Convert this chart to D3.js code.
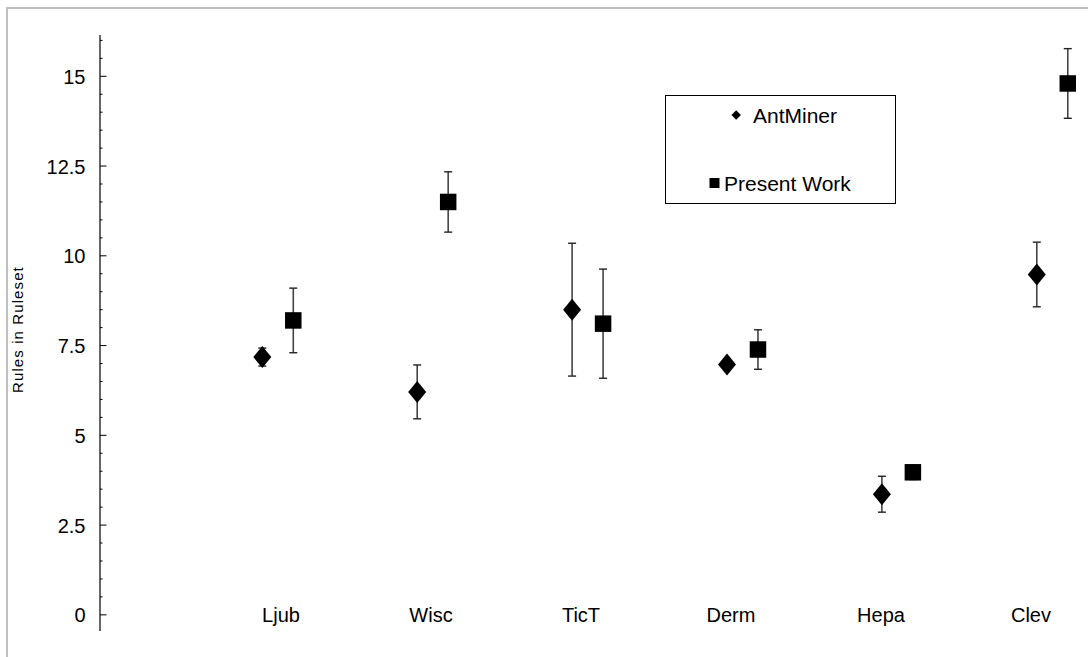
<!DOCTYPE html>
<html>
<head>
<meta charset="utf-8">
<script src="https://cdn.jsdelivr.net/npm/d3@7"></script>
<style>
  html, body { margin: 0; padding: 0; background: #fff; }
  svg { display: block; font-family: "Liberation Sans", Arial, sans-serif; }
</style>
</head>
<body>
<svg id="chart" width="1088" height="657"></svg>
<script>
// Datasets along the horizontal axis
const categories = ["Ljub", "Wisc", "TicT", "Derm", "Hepa", "Clev"];

// Mean number of rules in the ruleset, with error half-widths
const antMiner    = [7.18, 6.21, 8.50, 6.97, 3.36, 9.48];
const antMinerErr = [0.25, 0.75, 1.85, 0.15, 0.50, 0.90];
const presentWork    = [8.20, 11.50, 8.11, 7.39, 3.97, 14.80];
const presentWorkErr = [0.90, 0.84, 1.52, 0.55, 0.20, 0.97];

// Y axis ticks
const majorTicks = [0, 2.5, 5, 7.5, 10, 12.5, 15];
const majorTickLabels = ["0", "2.5", "5", "7.5", "10", "12.5", "15"];
const minorTicks = d3.range(0, 16.01, 0.5).filter(v => !majorTicks.includes(v));

const seriesNames = ["AntMiner", "Present Work"];

const svg = d3.select("#chart");

// Outer chart frame
svg.append("rect")
  .attr("x", 7).attr("y", 8)
  .attr("width", 1100).attr("height", 670)
  .attr("fill", "none").attr("stroke", "#c0c0c0").attr("stroke-width", 2);

const y = d3.scaleLinear().domain([-0.45, 16.15]).range([631, 35]);
const x = d3.scaleLinear().domain([1, 6]).range([262.3, 1036.8]);
const xLabel = d3.scalePoint().domain(categories).range([281, 1031]);
const axisX = 100;

// Y axis line
svg.append("line")
  .attr("x1", axisX).attr("x2", axisX)
  .attr("y1", y.range()[0]).attr("y2", y.range()[1])
  .attr("stroke", "#000").attr("stroke-width", 1.2);

// Minor and major ticks point inward
svg.append("g").selectAll("line").data(minorTicks).join("line")
  .attr("x1", axisX).attr("x2", axisX + 2.5)
  .attr("y1", d => y(d)).attr("y2", d => y(d))
  .attr("stroke", "#000").attr("stroke-width", 1);

svg.append("g").selectAll("line").data(majorTicks).join("line")
  .attr("x1", axisX).attr("x2", axisX + 6.5)
  .attr("y1", d => y(d)).attr("y2", d => y(d))
  .attr("stroke", "#000").attr("stroke-width", 1);

svg.append("g").selectAll("text").data(majorTicks).join("text")
  .attr("x", 85.5)
  .attr("y", d => y(d) + 7.5)
  .attr("text-anchor", "end")
  .attr("font-size", 20)
  .attr("fill", "#000")
  .text((d, i) => majorTickLabels[i]);

// Y axis title
svg.append("text")
  .attr("transform", `translate(23, ${y(7.5) - 16}) rotate(-90)`)
  .attr("text-anchor", "middle")
  .attr("font-size", 15)
  .attr("letter-spacing", 1.1)
  .attr("fill", "#000")
  .text("Rules in Ruleset");

// Category labels
svg.append("g").selectAll("text").data(categories).join("text")
  .attr("x", d => xLabel(d))
  .attr("y", y(0) + 7.5)
  .attr("text-anchor", "middle")
  .attr("font-size", 20)
  .attr("fill", "#000")
  .text(d => d);

const series = [
  { name: seriesNames[0], values: antMiner, errs: antMinerErr, offset: 0, shape: "diamond" },
  { name: seriesNames[1], values: presentWork, errs: presentWorkErr, offset: 0.2, shape: "square" }
];

const diamondPath = (w, h) => `M0,${-h / 2}L${w / 2},0L0,${h / 2}L${-w / 2},0Z`;
const squarePath = s => `M${-s / 2},${-s / 2}h${s}v${s}h${-s}Z`;

series.forEach(s => {
  const pts = s.values.map((v, i) => ({ v, e: s.errs[i], xp: x(i + 1 + s.offset) }));
  const g = svg.append("g");

  // Error bars
  g.selectAll("line.stem").data(pts).join("line")
    .attr("class", "stem")
    .attr("x1", d => d.xp).attr("x2", d => d.xp)
    .attr("y1", d => y(d.v + d.e)).attr("y2", d => y(d.v - d.e))
    .attr("stroke", "#444").attr("stroke-width", 1.6);
  ["top", "bot"].forEach(k => {
    g.selectAll(`line.cap-${k}`).data(pts).join("line")
      .attr("class", `cap-${k}`)
      .attr("x1", d => d.xp - 4).attr("x2", d => d.xp + 4)
      .attr("y1", d => y(k === "top" ? d.v + d.e : d.v - d.e))
      .attr("y2", d => y(k === "top" ? d.v + d.e : d.v - d.e))
      .attr("stroke", "#222").attr("stroke-width", 1.4);
  });

  // Markers
  g.selectAll("path.marker").data(pts).join("path")
    .attr("class", "marker")
    .attr("transform", d => `translate(${d.xp},${y(d.v)})`)
    .attr("d", s.shape === "diamond" ? diamondPath(18, 22) : squarePath(16.5))
    .attr("fill", "#000");
});

// Legend
const legend = svg.append("g");
legend.append("rect")
  .attr("x", 665.5).attr("y", 95.5)
  .attr("width", 230).attr("height", 108)
  .attr("fill", "#fff").attr("stroke", "#000").attr("stroke-width", 1);

legend.append("path")
  .attr("transform", "translate(736.2,115)")
  .attr("d", diamondPath(9.5, 9.5))
  .attr("fill", "#000");
legend.append("text")
  .attr("x", 753).attr("y", 115 + 7.5)
  .attr("font-size", 21).attr("fill", "#000")
  .text(seriesNames[0]);

legend.append("path")
  .attr("transform", "translate(714.5,183)")
  .attr("d", squarePath(10))
  .attr("fill", "#000");
legend.append("text")
  .attr("x", 724).attr("y", 183 + 7.5)
  .attr("font-size", 21).attr("fill", "#000")
  .text(seriesNames[1]);
</script>
</body>
</html>
